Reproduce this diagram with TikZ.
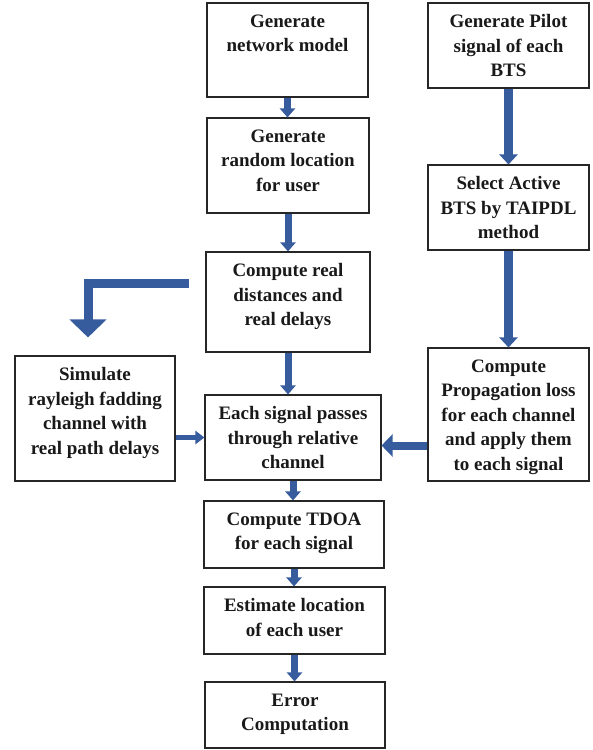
\documentclass[tikz,border=0pt]{standalone}
\usepackage{fontspec}
\setmainfont{Liberation Serif}
\usetikzlibrary{arrows.meta}
\definecolor{flowblue}{RGB}{55,92,158}
\begin{document}
\begin{tikzpicture}[x=1pt,y=-1pt,
		box/.style={draw=black!85, line width=1.1pt, inner sep=0pt},
		txt/.style={below=12pt, inner sep=0pt, align=center, text=black!90, font={\fontsize{19}{24.5}\selectfont\bfseries}},
		flow/.style={draw=flowblue, line width=7pt, -{Triangle[width=15pt,length=9pt]}},
		sideflow/.style={draw=flowblue, line width=5pt, -{Triangle[width=13pt,length=9pt]}},
		bigflow/.style={draw=flowblue, line width=9pt, line join=miter, -{Triangle[width=36pt,length=18pt]}}]
					\useasboundingbox (0,0) rectangle (592,750);
					\node[box, minimum width=161, minimum height=94, label={[txt]north:Generate\\network model}] (A) at (287.5,50) {};
					\node[box, minimum width=162, minimum height=95, label={[txt]north:Generate\\random location\\for user}] (B) at (288,165.5) {};
					\node[box, minimum width=164, minimum height=100, label={[txt]north:Compute real\\distances and\\real delays}] (C) at (288,302) {};
					\node[box, minimum width=176, minimum height=85, label={[txt]north:Each signal passes\\through relative\\channel}] (D) at (293,437.5) {};
					\node[box, minimum width=180, minimum height=67, label={[txt]north:Compute TDOA\\for each signal}] (E) at (294,534.5) {};
					\node[box, minimum width=181, minimum height=67, label={[txt]north:Estimate location\\of each user}] (F) at (294.5,620.5) {};
					\node[box, minimum width=180, minimum height=66, label={[txt]north:Error\\Computation}] (G) at (295,715) {};
					\node[box, minimum width=161, minimum height=85, label={[txt]north:Generate Pilot\\signal of each\\BTS}] (H) at (508.5,45.5) {};
					\node[box, minimum width=161, minimum height=85, label={[txt]north:Select Active\\BTS by TAIPDL\\method}] (I) at (508.5,207.5) {};
					\node[box, minimum width=161, minimum height=133, label={[txt]north:Compute\\Propagation loss\\for each channel\\and apply them\\to each signal}] (J) at (508.5,414.5) {};
					\node[box, minimum width=160, minimum height=125, label={[txt]north:Simulate\\rayleigh fadding\\channel with\\real path delays}] (K) at (95,418.5) {};
					\coordinate (L) at (88,283);
					% flèches du flux principal
					\draw[flow] (A.south) -- (A.south |- B.north);
					\draw[flow] (B.south) -- (B.south |- C.north);
					\draw[flow] (C.south) -- (C.south |- D.north);
					\draw[flow] (D.south) -- (D.south |- E.north);
					\draw[flow] (E.south) -- (E.south |- F.north);
					\draw[flow] (F.south) -- (F.south |- G.north);
					\draw[flow, line width=9pt, -{Triangle[width=18pt,length=10pt]}] (H.south) -- (I.north);
					\draw[flow, line width=9pt, -{Triangle[width=18pt,length=10pt]}] (I.south) -- (J.north);
					\draw[sideflow] (K.east |- D.west) -- (D.west);
					\draw[sideflow, line width=8pt, -{Triangle[width=22pt,length=11pt]}] ([yshift=-8pt]J.west |- D.east) -- ([yshift=-8pt]D.east);
					\draw[bigflow, shorten <=16pt, shorten >=18pt] (C.west |- L) -- (L) -- (L |- K.north);
		\end{tikzpicture}
\end{document}
